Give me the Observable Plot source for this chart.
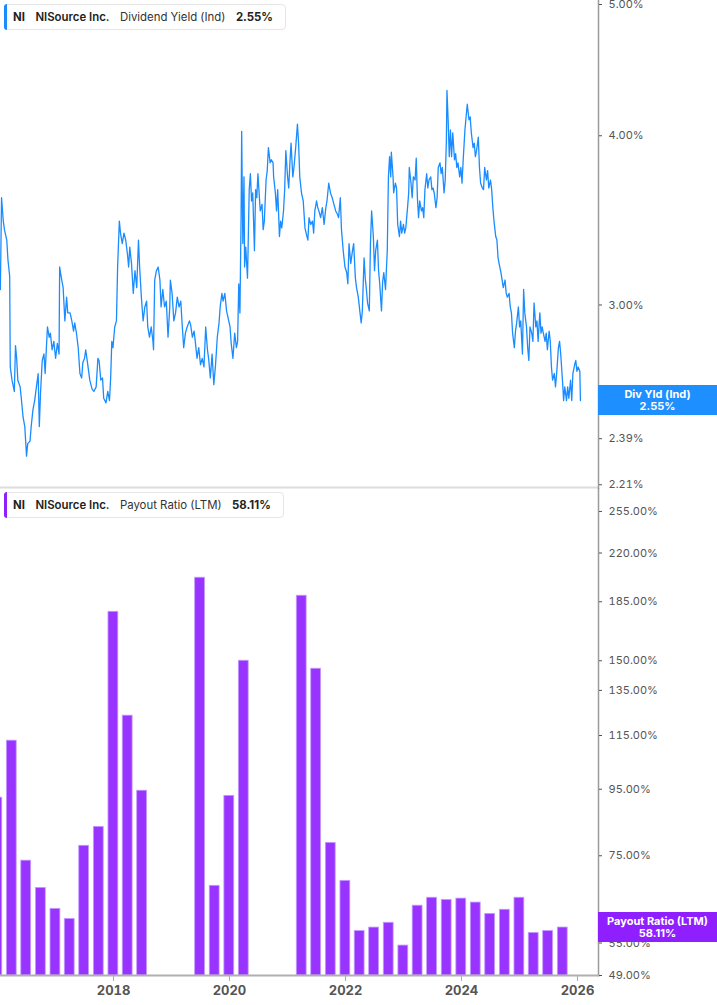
<!DOCTYPE html>
<html>
<head>
<meta charset="utf-8">
<script src="https://cdn.jsdelivr.net/npm/d3@7"></script>
<script src="https://cdn.jsdelivr.net/npm/@observablehq/plot@0.6"></script>
<style>
  html, body { margin: 0; padding: 0; background: #fff; }
  body { font-family: Inter, Roboto, "Noto Sans", sans-serif; }
  #wrap { position: relative; width: 717px; height: 1005px; overflow: hidden; background: #fff; }
  #top svg, #bottom svg { display: block; }
  #top { position: relative; z-index: 2; }
  #top svg { overflow: visible; }
  #bottom { position: relative; z-index: 1; }
  .legend { position: absolute; left: 4px; height: 26px; background: #fff; border: 1px solid #e6e6e6;
            border-radius: 4px; display: flex; align-items: center; gap: 10.5px; padding: 0 12px 0 8px;
            font-size: 11.4px; color: #222; box-sizing: border-box; z-index: 3; }
  .legend .bar { position: absolute; left: -1px; top: -1px; bottom: -1px; width: 3px; border-radius: 3px 0 0 3px; }
  .legend b { font-weight: 700; }
  .legend .nm { font-weight: 600; }
  .legend .ser { font-weight: 400; color: #333; }
  .vlabel { position: absolute; left: 598px; width: 119px; height: 30px; color: #fff; font-weight: 700;
            font-size: 11px; line-height: 12.5px; text-align: center; display: flex; flex-direction: column;
            justify-content: center; z-index: 4; }
</style>
</head>
<body>
<div id="wrap">
  <div id="top"></div>
  <div id="bottom"></div>
</div>
<script>
// ---------------- Data ----------------
// Dividend yield (Ind), %, dates as decimal years
const divYears = [
2016.05,2016.07,2016.10,2016.12,2016.16,2016.18,2016.21,2016.22,2016.25,2016.29,2016.31,2016.33,2016.35,2016.39,2016.41,2016.44,2016.47,2016.50,2016.52,2016.56,
2016.58,2016.61,2016.64,2016.67,2016.70,2016.72,2016.74,2016.77,2016.80,2016.82,2016.84,2016.86,2016.89,2016.91,2016.94,2016.97,2017.00,2017.03,2017.06,2017.07,
2017.10,2017.13,2017.16,2017.19,2017.21,2017.25,2017.28,2017.31,2017.33,2017.36,2017.39,2017.42,2017.45,2017.47,2017.50,2017.52,2017.56,2017.59,2017.63,2017.66,
2017.70,2017.73,2017.75,2017.78,2017.81,2017.83,2017.87,2017.90,2017.93,2017.95,2017.97,2017.99,2018.02,2018.05,2018.07,2018.10,2018.12,2018.15,2018.18,2018.21,
2018.24,2018.26,2018.28,2018.31,2018.34,2018.37,2018.40,2018.43,2018.45,2018.48,2018.51,2018.54,2018.57,2018.59,2018.62,2018.65,2018.68,2018.69,2018.71,2018.74,
2018.77,2018.80,2018.82,2018.85,2018.88,2018.91,2018.94,2018.97,2018.98,2019.01,2019.04,2019.07,2019.10,2019.13,2019.16,2019.18,2019.21,2019.24,2019.27,2019.31,
2019.33,2019.36,2019.39,2019.41,2019.44,2019.47,2019.50,2019.53,2019.56,2019.59,2019.62,2019.64,2019.67,2019.70,2019.73,2019.76,2019.79,2019.82,2019.84,2019.87,
2019.89,2019.92,2019.95,2019.98,2020.01,2020.03,2020.06,2020.09,2020.12,2020.14,2020.16,2020.18,2020.20,2020.21,2020.23,2020.25,2020.26,2020.28,2020.31,2020.32,
2020.34,2020.36,2020.38,2020.40,2020.43,2020.45,2020.47,2020.49,2020.51,2020.53,2020.56,2020.58,2020.60,2020.63,2020.65,2020.67,2020.70,2020.72,2020.75,2020.76,
2020.79,2020.81,2020.83,2020.86,2020.88,2020.90,2020.93,2020.95,2020.97,2021.00,2021.02,2021.04,2021.06,2021.09,2021.11,2021.14,2021.17,2021.19,2021.21,2021.24,
2021.27,2021.30,2021.32,2021.35,2021.37,2021.40,2021.43,2021.45,2021.47,2021.50,2021.52,2021.54,2021.57,2021.60,2021.63,2021.66,2021.68,2021.71,2021.74,2021.77,
2021.80,2021.83,2021.86,2021.88,2021.91,2021.93,2021.96,2021.99,2022.02,2022.04,2022.06,2022.09,2022.12,2022.14,2022.17,2022.19,2022.22,2022.25,2022.27,2022.29,
2022.32,2022.34,2022.36,2022.38,2022.41,2022.43,2022.45,2022.48,2022.50,2022.52,2022.55,2022.57,2022.59,2022.62,2022.64,2022.66,2022.69,2022.72,2022.74,2022.76,
2022.78,2022.79,2022.82,2022.83,2022.86,2022.88,2022.90,2022.93,2022.95,2022.97,2023.00,2023.02,2023.04,2023.07,2023.09,2023.10,2023.13,2023.15,2023.17,2023.20,
2023.22,2023.24,2023.26,2023.28,2023.31,2023.33,2023.35,2023.37,2023.40,2023.42,2023.44,2023.47,2023.49,2023.51,2023.53,2023.56,2023.58,2023.60,2023.63,2023.65,
2023.67,2023.70,2023.72,2023.74,2023.75,2023.77,2023.79,2023.81,2023.83,2023.85,2023.88,2023.90,2023.92,2023.94,2023.97,2023.99,2024.01,2024.03,2024.06,2024.08,
2024.10,2024.13,2024.15,2024.17,2024.20,2024.22,2024.24,2024.26,2024.29,2024.31,2024.33,2024.36,2024.38,2024.40,2024.43,2024.45,2024.47,2024.50,2024.52,2024.54,
2024.56,2024.59,2024.61,2024.63,2024.66,2024.68,2024.70,2024.72,2024.75,2024.77,2024.79,2024.82,2024.84,2024.86,2024.88,2024.91,2024.93,2024.95,2024.98,2025.00,
2025.02,2025.05,2025.07,2025.09,2025.12,2025.14,2025.16,2025.18,2025.21,2025.23,2025.25,2025.28,2025.30,2025.32,2025.35,2025.37,2025.39,2025.41,2025.44,2025.46,
2025.48,2025.51,2025.53,2025.55,2025.57,2025.60,2025.62,2025.64,2025.67,2025.69,2025.71,2025.74,2025.76,2025.78,2025.81,2025.83,2025.85,2025.88,2025.90,2025.92,
2025.95,2025.97,2025.99,2026.01,2026.04,2026.05
];
const divValues = [
3.08,3.60,3.46,3.41,3.35,3.24,3.15,2.70,2.64,2.59,2.80,2.74,2.64,2.61,2.56,2.48,2.44,2.32,2.37,2.38,
2.44,2.51,2.55,2.61,2.67,2.44,2.58,2.73,2.76,2.67,2.78,2.89,2.84,2.86,2.78,2.82,2.74,2.81,2.76,3.20,
3.14,3.09,2.92,3.04,2.96,2.96,2.92,2.87,2.91,2.86,2.79,2.67,2.65,2.72,2.74,2.78,2.70,2.64,2.60,2.59,
2.61,2.74,2.73,2.64,2.65,2.56,2.54,2.59,2.55,2.65,2.82,2.79,2.89,2.92,3.20,3.46,3.39,3.33,3.39,3.35,
3.27,3.20,3.31,3.22,3.06,3.18,3.09,3.35,3.20,3.04,2.92,2.99,3.02,2.89,2.84,2.89,2.82,2.78,3.13,3.18,
3.20,3.13,2.99,3.08,2.99,3.02,2.84,2.99,3.13,3.06,2.92,2.96,3.04,2.99,3.02,2.92,2.79,2.86,2.89,2.92,
2.90,2.84,2.87,2.82,2.74,2.79,2.71,2.74,2.70,2.89,2.78,2.74,2.65,2.76,2.62,2.71,2.84,2.91,2.99,3.06,
3.02,3.06,2.97,2.93,2.89,2.81,2.74,2.86,2.79,2.82,3.11,2.96,3.48,4.03,3.33,3.73,3.20,3.31,3.14,3.29,
3.65,3.75,3.58,3.63,3.29,3.65,3.60,3.75,3.63,3.52,3.56,3.41,3.46,3.71,3.77,3.92,3.82,3.84,3.82,3.73,
3.63,3.52,3.65,3.37,3.46,3.42,3.52,3.65,3.90,3.73,3.66,3.82,3.95,3.73,3.79,3.92,4.08,3.95,3.73,3.63,
3.58,3.42,3.39,3.35,3.48,3.44,3.46,3.39,3.52,3.58,3.54,3.52,3.48,3.54,3.44,3.54,3.58,3.69,3.63,3.60,
3.56,3.52,3.50,3.48,3.60,3.41,3.29,3.20,3.17,3.11,3.33,3.22,3.29,3.33,3.14,3.09,3.04,2.96,2.91,2.97,
3.25,3.14,3.08,3.01,2.97,3.33,3.52,3.37,3.18,3.29,3.35,3.18,3.11,2.97,3.12,3.17,3.08,3.29,3.73,3.86,
3.73,3.89,3.73,3.63,3.69,3.66,3.44,3.37,3.46,3.39,3.44,3.39,3.42,3.54,3.63,3.79,3.69,3.60,3.73,3.71,
3.85,3.60,3.48,3.58,3.52,3.54,3.48,3.65,3.75,3.66,3.71,3.73,3.65,3.66,3.63,3.54,3.60,3.79,3.82,3.75,
3.79,3.63,3.71,3.97,4.32,4.11,3.86,4.04,3.86,4.02,3.84,3.88,3.79,3.82,3.73,3.79,3.69,3.84,4.04,4.13,
4.22,4.11,4.13,4.02,3.92,3.95,3.86,3.90,3.99,3.79,3.69,3.66,3.65,3.79,3.71,3.77,3.66,3.71,3.65,3.54,
3.46,3.37,3.35,3.25,3.20,3.17,3.13,3.09,3.13,3.06,3.04,3.06,2.99,2.96,2.86,2.79,2.87,2.91,2.99,2.89,
2.92,2.76,3.08,2.96,2.89,2.79,2.73,2.89,2.86,2.82,3.01,2.89,2.92,2.82,2.96,2.86,2.89,2.86,2.82,2.86,
2.78,2.87,2.82,2.70,2.64,2.67,2.61,2.67,2.79,2.82,2.76,2.64,2.55,2.61,2.55,2.61,2.56,2.64,2.55,2.67,
2.71,2.73,2.68,2.70,2.68,2.55
];
// Payout ratio (LTM), %, quarterly (null = not reported / negative earnings)
const payQuarters = [
"2015-12-31","2016-03-31","2016-06-30","2016-09-30","2016-12-31","2017-03-31","2017-06-30","2017-09-30","2017-12-31",
"2018-03-31","2018-06-30","2018-09-30","2018-12-31","2019-03-31","2019-06-30","2019-09-30","2019-12-31","2020-03-31",
"2020-06-30","2020-09-30","2020-12-31","2021-03-31","2021-06-30","2021-09-30","2021-12-31","2022-03-31","2022-06-30",
"2022-09-30","2022-12-31","2023-03-31","2023-06-30","2023-09-30","2023-12-31","2024-03-31","2024-06-30","2024-09-30",
"2024-12-31","2025-03-31","2025-06-30","2025-09-30"
];
const payValues = [
92.2,112.9,73.7,66.9,62.1,59.9,77.7,83.1,178.5,
123.4,94.5,null,null,null,201.5,67.4,92.8,150.0,
null,null,null,189.0,145.8,78.5,68.6,57.4,58.1,
59.1,54.5,62.8,64.6,64.1,64.4,63.5,61.0,61.9,
64.6,57.0,57.4,58.11
];
const topTicks = [5.00, 4.00, 3.00, 2.57, 2.39, 2.21];
const bottomTicks = [255, 220, 185, 150, 135, 115, 95, 75, 55, 49];
const xTickYears = [2018, 2020, 2022, 2024, 2026];
const lastDivYield = 2.55;
const lastPayout = 58.11;

// ---------------- Helpers ----------------
const toDate = t => {
  const y = Math.floor(t);
  const s = Date.UTC(y, 0, 1), e = Date.UTC(y + 1, 0, 1);
  return new Date(s + (t - y) * (e - s));
};
const divData = divYears.map((t, i) => ({date: toDate(t), value: divValues[i]}));
const payData = payQuarters.map((q, i) => ({date: new Date(q), value: payValues[i]}))
  .filter(d => d.value != null);
const xDomain = [toDate(2016.052), toDate(2026.362)];
const xTicks = xTickYears.map(y => new Date(Date.UTC(y, 0, 1)));
const HALF = 31 * 864e5;

const BLUE = "#1a8cff";
const PURPLE = "#9933ff";
const FONT = "Inter, Roboto, 'Noto Sans', sans-serif";

// ---------------- Top chart ----------------
const topPlot = Plot.plot({
  width: 717, height: 488,
  marginLeft: 0, marginRight: 119, marginTop: 0, marginBottom: 0,
  style: {fontFamily: FONT, background: "transparent", overflow: "visible"},
  x: {type: "time", domain: xDomain, axis: null},
  y: {type: "log", domain: [2.196, 5.034], axis: null},
  marks: [
    Plot.line(divData, {x: "date", y: "value", stroke: BLUE, strokeWidth: 1.3, clip: true}),
    Plot.ruleY([2.196], {stroke: "#dcdcdc", strokeWidth: 2, dy: -1}),
    Plot.frame({anchor: "right", stroke: "#9a9a9a", strokeWidth: 1.5}),
    Plot.axisY({anchor: "right", ticks: topTicks, tickFormat: d => d.toFixed(2) + "%",
      tickSize: 3, tickPadding: 7, fontSize: 11, color: "#555", label: null})
  ]
});
document.getElementById("top").appendChild(topPlot);

// ---------------- Bottom chart ----------------
const bottomPlot = Plot.plot({
  width: 717, height: 517,
  marginLeft: 0, marginRight: 119, marginTop: 0, marginBottom: 30,
  style: {fontFamily: FONT, background: "transparent"},
  x: {type: "time", domain: xDomain, axis: null},
  y: {type: "log", domain: [49, 276.7], axis: null},
  marks: [
    Plot.rectY(payData, {
      x1: d => new Date(+d.date - HALF), x2: d => new Date(+d.date + HALF),
      y1: 49, y2: "value", fill: PURPLE, stroke: "#c49bff", strokeWidth: 0.8, clip: true
    }),
    Plot.frame({anchor: "right", stroke: "#9a9a9a", strokeWidth: 1.5}),
    Plot.frame({anchor: "bottom", stroke: "#b0b0b0", strokeWidth: 2}),
    Plot.axisY({anchor: "right", ticks: bottomTicks, tickFormat: d => d.toFixed(2) + "%",
      tickSize: 3, tickPadding: 7, fontSize: 11, color: "#555", label: null}),
    Plot.axisX({anchor: "bottom", ticks: xTicks, tickFormat: d => String(d.getUTCFullYear()),
      tickSize: 6, tickPadding: 4, fontSize: 13, fontWeight: 700, color: "#555", label: null,
      stroke: "#aaa"})
  ]
});
document.getElementById("bottom").appendChild(bottomPlot);

// ---------------- Overlays (legends + value labels) ----------------
const wrap = document.getElementById("wrap");
function legend(top, color, series, value) {
  const el = document.createElement("div");
  el.className = "legend";
  el.style.top = top + "px";
  el.innerHTML = `<span class="bar" style="background:${color}"></span><b>NI</b><span class="nm">NISource Inc.</span><span class="ser">${series}</span><b>${value}</b>`;
  wrap.appendChild(el);
}
legend(4, BLUE, "Dividend Yield (Ind)", lastDivYield.toFixed(2) + "%");
legend(492, "#8f1fff", "Payout Ratio (LTM)", lastPayout.toFixed(2) + "%");

function valueLabel(yPx, color, name, value) {
  const el = document.createElement("div");
  el.className = "vlabel";
  el.style.top = (yPx - 15) + "px";
  el.style.background = color;
  el.innerHTML = `<div>${name}</div><div>${value}</div>`;
  wrap.appendChild(el);
}
valueLabel(topPlot.scale("y").apply(lastDivYield), "#1e8fff", "Div Yld (Ind)", lastDivYield.toFixed(2) + "%");
valueLabel(488 + bottomPlot.scale("y").apply(lastPayout), "#8f1fff", "Payout Ratio (LTM)", lastPayout.toFixed(2) + "%");
</script>
</body>
</html>
